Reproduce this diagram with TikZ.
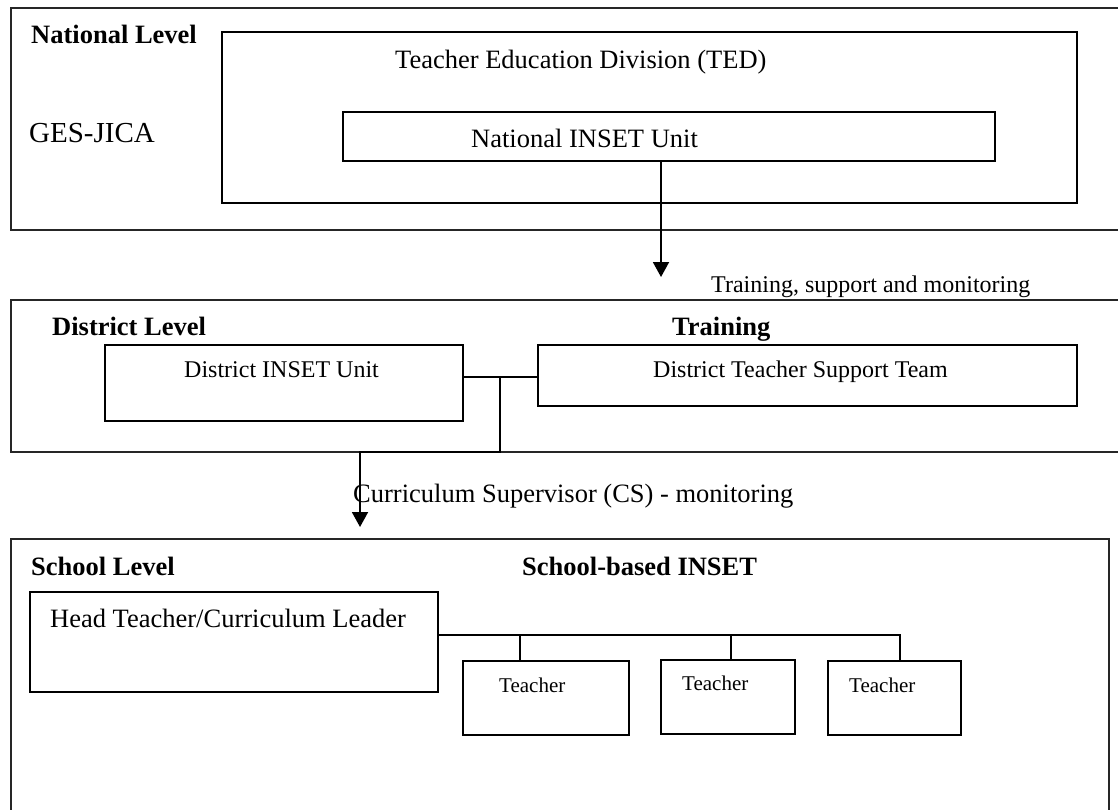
\documentclass[tikz,border=0pt]{standalone}
\usepackage{fontspec}
\setmainfont{Liberation Serif}
\usetikzlibrary{arrows.meta}
\newcommand\fsz[1]{\fontsize{#1}{#1}\selectfont}
\begin{document}
\begin{tikzpicture}[x=1pt,y=-1pt,
  frame/.style={draw=black!85, line width=2pt, inner sep=0pt, anchor=north west},
  unit/.style={draw, line width=2pt, inner sep=0pt, anchor=north west},
  lbl/.style={inner sep=0pt, anchor=base west},
  big/.style={lbl, font=\fsz{26.5}},
  head/.style={lbl, font=\fsz{26.5}\bfseries},
  mid/.style={lbl, font=\fsz{24}},
  small/.style={lbl, font=\fsz{21}},
  link/.style={line width=1.9pt},
  flow/.style={link, -{Triangle[width=16pt,length=15pt]}}]
\useasboundingbox (0,0) rectangle (1118,809);
\clip (0,0) rectangle (1118,809);

% ---------- national level ----------
\node[frame, minimum width=1120, minimum height=222] (natframe) at (10,7) {};
\node[unit, minimum width=855, minimum height=171] (ted) at (221,31) {};
\node[unit, minimum width=652, minimum height=49] (niu) at (342,111) {};
\node[head] (natlbl) at (31,43) {National Level};
\node[lbl, font=\fsz{29}] (ges) at (29,142) {GES-JICA};
\node[big] (tedlbl) at (395,68) {Teacher Education Division (TED)};
\node[big] (niulbl) at (471,147) {National INSET Unit};

% ---------- district level ----------
\node[frame, minimum width=1120, minimum height=152] (distframe) at (10,299) {};
\node[head] (distlbl) at (52,335) {District Level};
\node[head] (trainlbl) at (672,335) {Training};
\node[unit, minimum width=358, minimum height=76] (diu) at (104,344) {};
\node[mid] (diulbl) at (184,377) {District INSET Unit};
\node[unit, minimum width=539, minimum height=61] (dtst) at (537,344) {};
\node[mid] (dtstlbl) at (653,377) {District Teacher Support Team};
\node[mid] (tsmlbl) at (711,292) {Training, support and monitoring};

% ---------- school level ----------
\node[frame, minimum width=1098, minimum height=290] (schframe) at (10,538) {};
\node[head] (schlbl) at (31,575) {School Level};
\node[head] (sbilbl) at (522,575) {School-based INSET};
\node[unit, minimum width=408, minimum height=100] (ht) at (29,591) {};
\node[big] (htlbl) at (50,627) {Head Teacher/Curriculum Leader};
\node[unit, minimum width=166, minimum height=74] (t1) at (462,660) {};
\node[unit, minimum width=134, minimum height=74] (t2) at (660,659) {};
\node[unit, minimum width=133, minimum height=74] (t3) at (827,660) {};
\node[small] (t1lbl) at (499,692) {Teacher};
\node[small] (t2lbl) at (682,690) {Teacher};
\node[small] (t3lbl) at (849,692) {Teacher};
\node[big] (cslbl) at (353,502) {Curriculum Supervisor (CS) - monitoring};

% ---------- connectors ----------
\coordinate (tip1) at (661,277);
\draw[flow] (niu.south -| tip1) -- (tip1);

\coordinate (j) at (500,377);
\coordinate (c1) at (500,452);
\coordinate (c2) at (360,452);
\coordinate (tip2) at (360,527);
\draw[link] (diu.east |- j) -- (dtst.west |- j);
\draw[flow] (j) -- (c1) -- (c2) -- (tip2);

\coordinate (bus) at (900,635);
\coordinate (d1) at (520,635);
\coordinate (d2) at (731,635);
\draw[link] (ht.east |- bus) -- (bus) -- (t3.north -| bus);
\draw[link] (d1) -- (t1.north -| d1);
\draw[link] (d2) -- (t2.north -| d2);
\end{tikzpicture}
\end{document}
